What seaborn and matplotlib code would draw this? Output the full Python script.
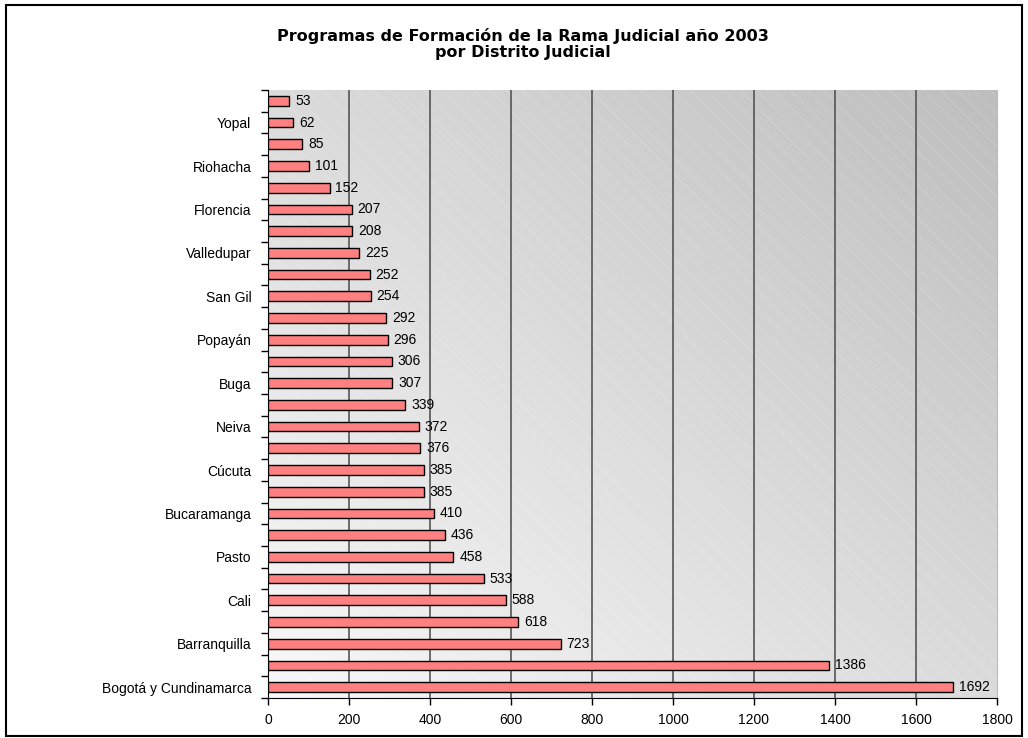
import numpy as np
import matplotlib
matplotlib.use("Agg")
import matplotlib.pyplot as plt
import seaborn as sns
import pandas as pd
from matplotlib.patches import Rectangle

# top to bottom, as in the chart
districts = ["Distrito 1", "Yopal", "Distrito 3", "Riohacha", "Distrito 5", "Florencia",
             "Distrito 7", "Valledupar", "Distrito 9", "San Gil", "Distrito 11", "Popayán",
             "Distrito 13", "Buga", "Distrito 15", "Neiva", "Distrito 17", "Cúcuta",
             "Distrito 19", "Bucaramanga", "Distrito 21", "Pasto", "Distrito 23", "Cali",
             "Distrito 25", "Barranquilla", "Distrito 27", "Bogotá y Cundinamarca"]
programs = [53, 62, 85, 101, 152, 207, 208, 225, 252, 254, 292, 296, 306, 307,
            339, 372, 376, 385, 385, 410, 436, 458, 533, 588, 618, 723, 1386, 1692]
# only every second name is printed in the original
shown_labels = ["", "Yopal", "", "Riohacha", "", "Florencia", "", "Valledupar", "",
                "San Gil", "", "Popayán", "", "Buga", "", "Neiva", "", "Cúcuta", "",
                "Bucaramanga", "", "Pasto", "", "Cali", "", "Barranquilla", "",
                "Bogotá y Cundinamarca"]
x_ticks = [0, 200, 400, 600, 800, 1000, 1200, 1400, 1600, 1800]

df = pd.DataFrame({"distrito": districts, "programas": programs})

sns.set_style("white")
plt.rcParams["font.family"] = ["Liberation Sans", "DejaVu Sans"]
plt.rcParams["text.color"] = "black"
plt.rcParams["xtick.color"] = "black"
plt.rcParams["ytick.color"] = "black"
plt.rcParams["hatch.linewidth"] = 0.5

fig = plt.figure(figsize=(10.28, 7.38), dpi=100)
ax = fig.add_axes([0.2607, 0.0542, 0.7091, 0.8238])

# gradient background: darker grey top-right, almost white bottom-left
gx, gy = np.meshgrid(np.linspace(0, 1, 200), np.linspace(0, 1, 200))
grad = (gx + (1 - gy)) / 2.0
val = 0.975 - 0.23 * grad
rgb = np.dstack([val, val, val])
ax.imshow(rgb, extent=[0, 1, 0, 1], transform=ax.transAxes, aspect="auto",
          zorder=0, interpolation="bilinear")
ax.add_patch(Rectangle((0, 0), 1, 1, transform=ax.transAxes, fill=False,
                       hatch="\\\\", edgecolor=(1, 1, 1, 0.22), linewidth=0, zorder=1))

sns.barplot(data=df, y="distrito", x="programas", orient="h", color="#FF8080",
            saturation=1, edgecolor="black", linewidth=1.0, width=0.45, ax=ax, zorder=3)

for i, v in enumerate(programs):
    ax.text(v + 14, i, str(v), va="center", ha="left", fontsize=10, zorder=4)

ax.set_xlim(0, 1800)
ax.set_ylim(len(districts) - 0.5, -0.5)
ax.set_xticks(x_ticks)
ax.set_xticklabels([str(t) for t in x_ticks], fontsize=10)
ax.set_yticks(range(len(districts)))
ax.set_yticklabels(shown_labels, fontsize=10)
ax.set_yticks(np.arange(-0.5, len(districts), 1), minor=True)
ax.tick_params(axis="y", which="major", length=0, pad=12)
ax.tick_params(axis="y", which="minor", length=5, width=1, direction="out", left=True)
ax.tick_params(axis="x", which="major", length=5, width=1, direction="out", bottom=True, pad=6)
ax.set_xlabel("")
ax.set_ylabel("")

for t in x_ticks[1:-1]:
    ax.axvline(t, color="#555555", linewidth=1.2, zorder=2)

ax.spines["left"].set_color("black")
ax.spines["bottom"].set_color("black")
ax.spines["top"].set_visible(False)
ax.spines["right"].set_color("#bbbbbb")

fig.text(0.509, 0.962, "Programas de Formación de la Rama Judicial año 2003\npor Distrito Judicial",
         ha="center", va="top", fontsize=11.5, fontweight="bold", linespacing=1.1,
         family=["DejaVu Sans"])

fig.patches.append(Rectangle((0.006, 0.003), 0.988, 0.99, transform=fig.transFigure,
                             fill=False, edgecolor="black", linewidth=1.5))

fig.savefig("out.png", dpi=100)
